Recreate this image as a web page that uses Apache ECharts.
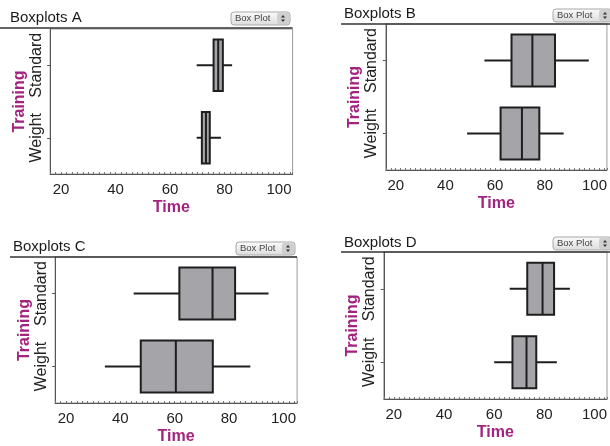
<!DOCTYPE html>
<html>
<head>
<meta charset="utf-8">
<script src="https://cdn.jsdelivr.net/npm/echarts@6/dist/echarts.min.js"></script>
<style>
html,body{margin:0;padding:0;background:#fff;}
#chart{width:610px;height:446px;}
</style>
</head>
<body>
<div id="chart"></div>
<script>
// ---- data: [min, Q1, median, Q3, max] ----
const categories = ['Weight', 'Standard'];
const panelTitles = ['Boxplots A', 'Boxplots B', 'Boxplots C', 'Boxplots D'];
const tickLabels = [20, 40, 60, 80, 100];

const weightA   = [69.8, 71.7, 73.2, 74.6, 78.7];
const standardA = [69.8, 76.0, 77.7, 79.4, 82.8];

const weightB   = [48.7, 62.2, 70.8, 77.8, 87.6];
const standardB = [55.7, 66.6, 75.0, 84.1, 97.7];

const weightC   = [34.3, 47.5, 60.4, 74.0, 87.8];
const standardC = [44.9, 61.7, 73.9, 82.2, 94.5];

const weightD   = [60.0, 67.3, 72.9, 76.8, 85.0];
const standardD = [66.2, 73.2, 79.3, 83.9, 90.2];

const xAxisName = 'Time';
const yAxisName = 'Training';
const buttonText = 'Box Plot';

const panelData = [
  [weightA, standardA],
  [weightB, standardB],
  [weightC, standardC],
  [weightD, standardD]
];

// ---- layout ----
const FONT = '"Liberation Sans", Arial, sans-serif';
const MAGENTA = '#a3237f';
const grids = [
  {left: 50.1, top: 29, width: 242.5, height: 145},
  {left: 385.8, top: 24, width: 226, height: 146},
  {left: 55.1, top: 257, width: 242, height: 146},
  {left: 383.8, top: 252, width: 227.8, height: 147}
];
const titlePos = [
  {left: 10, top: 10}, {left: 344, top: 6}, {left: 13, top: 239}, {left: 344, top: 235}
];
const underlines = [
  [0, 28, 292.6], [341, 24, 612], [10, 257, 297], [341, 252, 612]
];
const buttons = [
  [231, 12], [553, 9], [236, 242], [553, 237]
];

function renderBox(params, api) {
  const cat = api.value(0);
  const lo = api.coord([api.value(1), cat]);
  const q1 = api.coord([api.value(2), cat]);
  const md = api.coord([api.value(3), cat]);
  const q3 = api.coord([api.value(4), cat]);
  const hi = api.coord([api.value(5), cat]);
  const h = api.size([0, 1])[1] * 0.71;
  const y = lo[1];
  const ls = {stroke: '#1e1e1e', lineWidth: 2, fill: null};
  return {
    type: 'group',
    children: [
      {type: 'line', shape: {x1: lo[0], y1: y, x2: q1[0], y2: y}, style: ls},
      {type: 'line', shape: {x1: q3[0], y1: y, x2: hi[0], y2: y}, style: ls},
      {type: 'rect', shape: {x: q1[0], y: y - h / 2, width: q3[0] - q1[0], height: h},
        style: {fill: '#a4a4a9', stroke: '#1e1e1e', lineWidth: 2}},
      {type: 'line', shape: {x1: md[0], y1: y - h / 2, x2: md[0], y2: y + h / 2}, style: ls}
    ]
  };
}

const option = {
  animation: false,
  backgroundColor: '#ffffff',
  textStyle: {fontFamily: FONT},
  title: panelTitles.map((t, i) => ({
    text: t, left: titlePos[i].left, top: titlePos[i].top, padding: 0,
    textStyle: {fontFamily: FONT, fontSize: 15, fontWeight: 'normal', color: '#1a1a1a'}
  })),
  grid: grids.map(g => Object.assign({show: true, borderColor: '#9a9a9a', borderWidth: 1, backgroundColor: '#fff'}, g)),
  xAxis: grids.map((g, i) => ({
    type: 'value', gridIndex: i, min: 16, max: 105, interval: 2,
    name: xAxisName, nameLocation: 'middle', nameGap: 26,
    nameTextStyle: {fontFamily: FONT, fontSize: 16, fontWeight: 'bold', color: MAGENTA},
    axisLine: {show: true, lineStyle: {color: '#555', width: 1}},
    axisTick: {show: true, inside: true, length: 2, lineStyle: {color: '#777'}},
    splitLine: {show: false},
    axisLabel: {
      fontFamily: FONT, fontSize: 15, color: '#222', margin: 8,
      showMinLabel: true, showMaxLabel: true,
      formatter: v => (tickLabels.indexOf(Math.round(v)) >= 0 && Math.abs(v - Math.round(v)) < 1e-6) ? String(Math.round(v)) : ''
    }
  })),
  yAxis: grids.map((g, i) => ({
    type: 'category', gridIndex: i, data: categories,
    name: yAxisName, nameLocation: 'middle', nameRotate: 90, nameGap: 23,
    nameTextStyle: {fontFamily: FONT, fontSize: 16, fontWeight: 'bold', color: MAGENTA},
    axisLine: {show: true, lineStyle: {color: '#555', width: 1}},
    axisTick: {show: true, alignWithLabel: true, interval: 0, length: 3, lineStyle: {color: '#555'}},
    splitLine: {show: false},
    axisLabel: {fontFamily: FONT, fontSize: 16, color: '#222', rotate: 90, margin: 6, interval: 0, hideOverlap: false}
  })),
  series: panelData.map((pd, i) => ({
    type: 'custom', xAxisIndex: i, yAxisIndex: i,
    renderItem: renderBox,
    encode: {x: [1, 2, 3, 4, 5], y: 0},
    data: pd.map((v, c) => [c].concat(v))
  })),
  graphic: [].concat(
    underlines.map(u => ({
      type: 'line', silent: true, z: 100,
      shape: {x1: u[0], y1: u[1], x2: u[2], y2: u[1]},
      style: {stroke: '#333', lineWidth: 1.5}
    })),
    buttons.map(b => ({
      type: 'group', x: b[0], y: b[1], z: 100,
      children: [
        {type: 'rect', shape: {x: 0, y: 0, width: 59, height: 13, r: 3},
          style: {fill: {type: 'linear', x: 0, y: 0, x2: 0, y2: 1,
            colorStops: [{offset: 0, color: '#fbfbfb'}, {offset: 1, color: '#dcdcdc'}]},
            stroke: '#a8a8a8', lineWidth: 1}},
        {type: 'rect', shape: {x: 46, y: 1, width: 12, height: 11, r: 2},
          style: {fill: '#cfcfcf'}},
        {type: 'text', x: 4, y: 6.5,
          style: {text: buttonText, fontFamily: FONT, fontSize: 9.5, fill: '#444', verticalAlign: 'middle'}},
        {type: 'polygon', shape: {points: [[50, 5.5], [54, 5.5], [52, 3]]}, style: {fill: '#333'}},
        {type: 'polygon', shape: {points: [[50, 7.5], [54, 7.5], [52, 10]]}, style: {fill: '#333'}}
      ]
    }))
  )
};

const chart = echarts.init(document.getElementById('chart'), null, {renderer: 'canvas', width: 610, height: 446});
chart.setOption(option);
</script>
</body>
</html>
